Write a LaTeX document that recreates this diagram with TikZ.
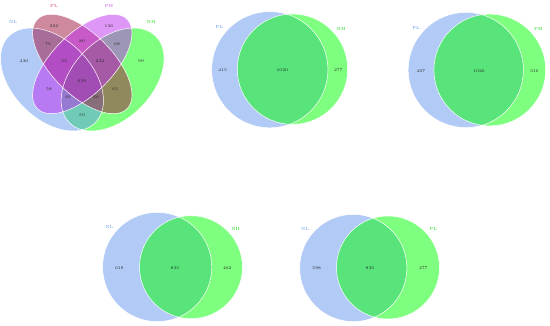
\documentclass[tikz,border=0pt]{standalone}
\usepackage{tikz}
\definecolor{nlc}{RGB}{100,149,237}
\definecolor{nhc}{RGB}{0,255,0}
\definecolor{plc}{RGB}{160,20,60}
\definecolor{phc}{RGB}{190,45,240}
\definecolor{nllab}{RGB}{100,149,237}
\definecolor{nhlab}{RGB}{30,215,30}
\definecolor{pllab}{RGB}{200,60,110}
\definecolor{phlab}{RGB}{200,80,230}
\tikzset{
  venfill/.style={fill=#1, fill opacity=0.5},
  venline/.style={draw=white, line width=0.5pt},
  num/.style={inner sep=0pt, text=black!85, font=\fontsize{4.2}{5}\selectfont},
  catlab/.style={inner sep=0pt, text=#1, font=\fontsize{4.4}{5}\selectfont}
}
\begin{document}
\begin{tikzpicture}[x=1pt, y=-1pt]
\useasboundingbox (0,0) rectangle (550,326);

% ---------- four-set Venn ----------
\coordinate (cNL) at (52,79.5);
\coordinate (cNH) at (112.6,79.5);
\coordinate (cPL) at (82.3,64);
\coordinate (cPH) at (82.3,64);
\fill[venfill=nhc, rotate around={45:(cNH)}] (cNH) ellipse (61.1 and 39.6);
\fill[venfill=nlc, rotate around={-45:(cNL)}] (cNL) ellipse (61.1 and 39.6);
\fill[venfill=plc, rotate around={-45:(cPL)}] (cPL) ellipse (63.3 and 30.5);
\fill[venfill=phc, rotate around={45:(cPH)}] (cPH) ellipse (63.3 and 30.5);
\draw[venline, rotate around={45:(cNH)}] (cNH) ellipse (61.1 and 39.6);
\draw[venline, rotate around={-45:(cNL)}] (cNL) ellipse (61.1 and 39.6);
\draw[venline, rotate around={-45:(cPL)}] (cPL) ellipse (63.3 and 30.5);
\draw[venline, rotate around={45:(cPH)}] (cPH) ellipse (63.3 and 30.5);

\node[catlab=nllab] (qNL) at (13,22) {NL};
\node[catlab=pllab] (qPL) at (54,6) {PL};
\node[catlab=phlab] (qPH) at (109,6) {PH};
\node[catlab=nhlab] (qNH) at (151,22) {NH};
\node[num] (q262) at (54,26) {262};
\node[num] (q136) at (109,26) {136};
\node[num] (q76) at (48,44) {76};
\node[num] (q80) at (82,41) {80};
\node[num] (q68) at (117,44) {68};
\node[num] (q430) at (24,61) {430};
\node[num] (q99) at (141,61) {99};
\node[num] (q33) at (64,61) {33};
\node[num] (q232) at (100,61) {232};
\node[num] (q639) at (82,81) {639};
\node[num] (q58) at (49,89) {58};
\node[num] (q63) at (115,89) {63};
\node[num] (q60) at (68,97) {60};
\node[num] (q66) at (96,97) {66};
\node[num] (q50) at (82,115) {50};

% ---------- FL vs NH ----------
\fill[venfill=nlc] (269.8,69.7) circle (58.1);
\fill[venfill=nhc] (292.5,69.2) circle (55.2);
\draw[venline] (269.8,69.7) circle (58.1);
\draw[venline] (292.5,69.2) circle (55.2);
\node[catlab=nllab] (aL) at (219.3,27.3) {FL};
\node[catlab=nhlab] (aR) at (341,29.3) {NH};
\node[num] (a1) at (222.7,70) {415};
\node[num] (a2) at (282.3,70) {1020};
\node[num] (a3) at (338.3,70) {277};

% ---------- FL vs PH ----------
\fill[venfill=nlc] (465.8,70) circle (57.6);
\fill[venfill=nhc] (489.8,70) circle (55.9);
\draw[venline] (465.8,70) circle (57.6);
\draw[venline] (489.8,70) circle (55.9);
\node[catlab=nllab] (bL) at (416,28.3) {FL};
\node[catlab=nhlab] (bR) at (538.3,29.3) {PH};
\node[num] (b1) at (421,70.7) {407};
\node[num] (b2) at (479,70.7) {1026};
\node[num] (b3) at (534.3,70.7) {316};

% ---------- NL vs NH ----------
\fill[venfill=nlc] (157.2,267) circle (54.6);
\fill[venfill=nhc] (191,267.2) circle (51.5);
\draw[venline] (157.2,267) circle (54.6);
\draw[venline] (191,267.2) circle (51.5);
\node[catlab=nllab] (cL) at (109.3,227.3) {NL};
\node[catlab=nhlab] (cR) at (235.7,229.3) {NH};
\node[num] (c1) at (119.3,268.3) {619};
\node[num] (c2) at (175,268.3) {835};
\node[num] (c3) at (227.3,268.3) {462};

% ---------- NL vs PL ----------
\fill[venfill=nlc] (353.3,268) circle (53.6);
\fill[venfill=nhc] (388,267.5) circle (51.5);
\draw[venline] (353.3,268) circle (53.6);
\draw[venline] (388,267.5) circle (51.5);
\node[catlab=nllab] (dL) at (305,229.3) {NL};
\node[catlab=nhlab] (dR) at (433.3,229.3) {PL};
\node[num] (d1) at (316.7,268.3) {598};
\node[num] (d2) at (370,268.3) {836};
\node[num] (d3) at (423.3,268.3) {277};
\end{tikzpicture}
\end{document}
